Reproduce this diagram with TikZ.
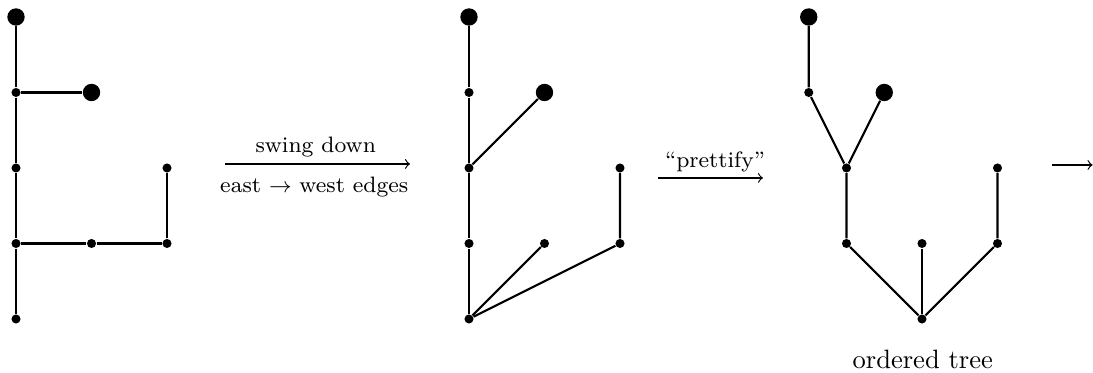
\documentclass[tikz,border=0pt]{standalone}
\begin{document}
\begin{tikzpicture}[x=1cm,y=1cm,
  sv/.style={circle,fill=black,inner sep=0pt,minimum size=0.12cm},
  bv/.style={circle,fill=black,inner sep=0pt,minimum size=0.23cm},
  edge/.style={line width=0.8pt},
  trans/.style={line width=0.45pt,->},
  lbl/.style={anchor=base,inner sep=0pt,font=\fontsize{8.4}{10}\selectfont}]
\useasboundingbox (-0.212,-0.715) rectangle (14.265,4.225);
% tree 1
\node[bv] (a4) at (0,4) {};
\node[sv] (a3) at (0,3) {};
\node[sv] (a2) at (0,2) {};
\node[sv] (a1) at (0,1) {};
\node[sv] (a0) at (0,0) {};
\node[bv] (b3) at (1,3) {};
\node[sv] (b1) at (1,1) {};
\node[sv] (c1) at (2,1) {};
\node[sv] (c2) at (2,2) {};
\draw[edge] (a4)--(a3)--(a2)--(a1)--(a0);
\draw[edge] (a3)--(b3);
\draw[edge] (a1)--(b1)--(c1)--(c2);
% tree 2
\node[bv] (d4) at (6,4) {};
\node[sv] (d3) at (6,3) {};
\node[sv] (d2) at (6,2) {};
\node[sv] (d1) at (6,1) {};
\node[sv] (d0) at (6,0) {};
\node[bv] (e3) at (7,3) {};
\node[sv] (e1) at (7,1) {};
\node[sv] (f1) at (8,1) {};
\node[sv] (f2) at (8,2) {};
\draw[edge] (d4)--(d3)--(d2)--(d1)--(d0);
\draw[edge] (d2)--(e3);
\draw[edge] (d0)--(e1);
\draw[edge] (d0)--(f1)--(f2);
% tree 3
\node[bv] (g4) at (10.5,4) {};
\node[sv] (g3) at (10.5,3) {};
\node[bv] (h3) at (11.5,3) {};
\node[sv] (i2) at (11,2) {};
\node[sv] (i1) at (11,1) {};
\node[sv] (j1) at (12,1) {};
\node[sv] (j0) at (12,0) {};
\node[sv] (k2) at (13,2) {};
\node[sv] (k1) at (13,1) {};
\draw[edge] (g4)--(g3)--(i2);
\draw[edge] (h3)--(i2)--(i1)--(j0);
\draw[edge] (j1)--(j0);
\draw[edge] (k2)--(k1)--(j0);
\node (lab) at (12.01,-0.54) {ordered tree};
% arrows
\coordinate (s1) at (2.768,2.053);
\coordinate (t1) at (5.219,2.053);
\draw[trans] (s1) -- (t1);
\node[lbl] (up1) at (3.97,2.199) {swing down};
\node[lbl] (dn1) at (3.95,1.669) {east $\rightarrow$ west edges};
\coordinate (s2) at (8.503,1.868);
\coordinate (t2) at (9.894,1.868);
\draw[trans] (s2) -- (t2);
\node[lbl] (up2) at (9.26,2.0) {``prettify''};
\coordinate (s3) at (13.72,2.04);
\coordinate (t3) at (14.26,2.04);
\draw[trans] (s3) -- (t3);
\end{tikzpicture}
\end{document}
